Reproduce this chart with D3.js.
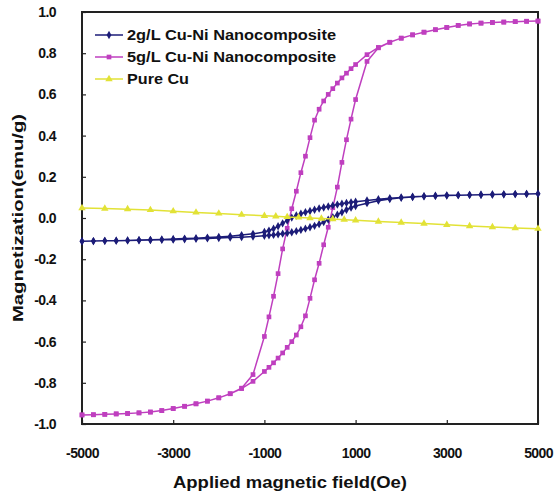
<!DOCTYPE html>
<meta charset="utf-8">
<style>
  body { margin: 0; background: #fff; }
  #chart text { font-family: "Liberation Sans", Arial, sans-serif; font-weight: bold; fill: #111; }
</style>
<body>
<div id="chart"></div>
<script src="https://cdn.jsdelivr.net/npm/d3@7"></script>
<script>
// field sweep, down branch (Oe)
const fieldDown = [5000, 4750, 4500, 4250, 4000, 3750, 3500, 3250, 3000, 2750, 2500, 2250, 2000, 1750, 1500, 1250,
  1000, 900, 800, 700, 600, 500, 400, 300, 200, 100, 0, -100, -200, -300, -400, -500, -600, -700, -800, -900, -1000,
  -1250, -1500, -1750, -2000, -2250, -2500, -2750, -3000, -3250, -3500, -3750, -4000, -4250, -4500, -4750, -5000]
const fieldUp = [-5000, -4750, -4500, -4250, -4000, -3750, -3500, -3250, -3000, -2750, -2500, -2250, -2000, -1750, -1500, -1250,
  -1000, -900, -800, -700, -600, -500, -400, -300, -200, -100, 0, 100, 200, 300, 400, 500, 600, 700, 800, 900, 1000,
  1250, 1500, 1750, 2000, 2250, 2500, 2750, 3000, 3250, 3500, 3750, 4000, 4250, 4500, 4750, 5000]

// 2g/L Cu-Ni
const m2Down = [0.118, 0.117, 0.116, 0.115, 0.114, 0.113, 0.112, 0.111, 0.110, 0.108, 0.106, 0.103, 0.100, 0.096, 0.091, 0.085,
  0.079, 0.076, 0.073, 0.069, 0.065, 0.061, 0.056, 0.051, 0.046, 0.040, 0.034, 0.028, 0.021, 0.012, 0.002, -0.012, -0.026, -0.040, -0.052, -0.061, -0.068,
  -0.077, -0.083, -0.088, -0.092, -0.095, -0.098, -0.100, -0.102, -0.104, -0.106, -0.107, -0.109, -0.110, -0.111, -0.112, -0.113]
const m2Up = [-0.113, -0.112, -0.111, -0.110, -0.109, -0.108, -0.107, -0.106, -0.105, -0.103, -0.101, -0.099, -0.097, -0.095, -0.093, -0.090,
  -0.086, -0.084, -0.082, -0.079, -0.076, -0.073, -0.069, -0.064, -0.058, -0.052, -0.045, -0.038, -0.030, -0.020, -0.008, 0.004, 0.016, 0.028, 0.040, 0.050, 0.058,
  0.072, 0.084, 0.092, 0.098, 0.102, 0.105, 0.107, 0.109, 0.111, 0.112, 0.113, 0.114, 0.115, 0.116, 0.117, 0.118]

// 5g/L Cu-Ni
const m5Down = [0.956, 0.955, 0.953, 0.951, 0.949, 0.946, 0.942, 0.935, 0.925, 0.914, 0.902, 0.889, 0.873, 0.853, 0.828, 0.793,
  0.745, 0.725, 0.703, 0.680, 0.655, 0.628, 0.600, 0.568, 0.528, 0.475, 0.390, 0.300, 0.220, 0.130, 0.045, -0.050, -0.150, -0.270, -0.380, -0.480, -0.575,
  -0.760, -0.826, -0.853, -0.873, -0.889, -0.902, -0.914, -0.925, -0.935, -0.942, -0.946, -0.949, -0.951, -0.953, -0.955, -0.956]
const m5Up = [-0.956, -0.955, -0.953, -0.951, -0.949, -0.946, -0.942, -0.935, -0.925, -0.914, -0.902, -0.889, -0.873, -0.853, -0.828, -0.793,
  -0.745, -0.725, -0.703, -0.680, -0.655, -0.628, -0.600, -0.568, -0.528, -0.475, -0.390, -0.300, -0.220, -0.130, -0.045, 0.050, 0.150, 0.270, 0.380, 0.480, 0.575,
  0.760, 0.826, 0.853, 0.873, 0.889, 0.902, 0.914, 0.925, 0.935, 0.942, 0.946, 0.949, 0.951, 0.953, 0.955, 0.956]

// Pure Cu
const fieldCu = [-5000, -4500, -4000, -3500, -3000, -2500, -2000, -1500, -1000, -750, -500, -250, 0, 250, 500, 750, 1000, 1500, 2000, 2500, 3000, 3500, 4000, 4500, 5000]
const mCu = [0.048, 0.046, 0.043, 0.039, 0.033, 0.027, 0.022, 0.016, 0.011, 0.008, 0.005, 0.003, 0.000, -0.003, -0.005, -0.008, -0.011, -0.017, -0.022, -0.027, -0.033, -0.039, -0.044, -0.049, -0.052]

const xTicks = [-5000, -3000, -1000, 1000, 3000, 5000]
const yTicks = [-1.0, -0.8, -0.6, -0.4, -0.2, 0.0, 0.2, 0.4, 0.6, 0.8, 1.0]

const zip = (h, m) => h.map((v, i) => [v, m[i]])
const series = [
  { name: "5g/L Cu-Ni Nanocomposite", color: "#bf3fbf", shape: d3.symbolSquare, size: 22,
    pts: zip(fieldDown, m5Down).concat(zip(fieldUp, m5Up)) },
  { name: "2g/L Cu-Ni Nanocomposite", color: "#1c1c78", shape: d3.symbolDiamond, size: 20,
    pts: zip(fieldDown, m2Down).concat(zip(fieldUp, m2Up)) },
  { name: "Pure Cu", color: "#e2e236", shape: d3.symbolTriangle, size: 24,
    pts: zip(fieldCu, mCu) }
]
const legendOrder = [1, 0, 2]

const W = 558, H = 492
const plotL = 82, plotR = 538, plotT = 12, plotB = 424

const svg = d3.select("#chart").append("svg").attr("width", W).attr("height", H)

const x = d3.scaleLinear().domain([-5000, 5000]).range([plotL, plotR])
const y = d3.scaleLinear().domain([-1, 1]).range([plotB, plotT])

// frame
svg.append("rect").attr("x", plotL).attr("y", plotT).attr("width", plotR - plotL).attr("height", plotB - plotT)
  .attr("fill", "none").attr("stroke", "#222").attr("stroke-width", 2)

const gx = svg.append("g").attr("transform", `translate(0,${plotB})`)
  .call(d3.axisBottom(x).tickValues(xTicks).tickSizeInner(-4).tickSizeOuter(0).tickPadding(24).tickFormat(d => d))
const gy = svg.append("g").attr("transform", `translate(${plotL},0)`)
  .call(d3.axisLeft(y).tickValues(yTicks).tickSizeInner(-4).tickSizeOuter(0).tickPadding(26).tickFormat(d => d.toFixed(1)))
;[gx, gy].forEach(g => {
  g.select(".domain").remove()
  g.selectAll("line").attr("stroke", "#222").attr("stroke-width", 1.2)
  g.selectAll("text").attr("font-size", 14).attr("font-family", null).style("letter-spacing", "-0.6px")
})

// curves
const line = d3.line().x(d => x(d[0])).y(d => y(d[1]))
series.forEach(s => {
  const g = svg.append("g")
  g.append("path").datum(s.pts).attr("d", line).attr("fill", "none")
    .attr("stroke", s.color).attr("stroke-width", 1.5)
  g.selectAll("path.pt").data(s.pts).join("path").attr("class", "pt")
    .attr("transform", d => `translate(${x(d[0])},${y(d[1])})`)
    .attr("d", d3.symbol().type(s.shape).size(s.size)).attr("fill", s.color)
})

// legend
const lg = svg.append("g")
legendOrder.forEach((si, i) => {
  const s = series[si], ly = 35 + i * 22
  lg.append("line").attr("x1", 95).attr("x2", 123).attr("y1", ly).attr("y2", ly)
    .attr("stroke", s.color).attr("stroke-width", 1.5)
  lg.append("path").attr("transform", `translate(109,${ly})`)
    .attr("d", d3.symbol().type(s.shape).size(s.size)).attr("fill", s.color)
  lg.append("text").attr("x", 127).attr("y", ly + 5).attr("font-size", 14)
    .attr("textLength", i < 2 ? 209 : 62).attr("lengthAdjust", "spacingAndGlyphs").text(s.name)
})

// axis titles
svg.append("text").attr("x", 290).attr("y", 488).attr("text-anchor", "middle").attr("font-size", 16)
  .attr("textLength", 234).attr("lengthAdjust", "spacingAndGlyphs").text("Applied magnetic field(Oe)")
svg.append("text").attr("transform", "translate(23,218) rotate(-90)").attr("text-anchor", "middle")
  .attr("font-size", 15).attr("textLength", 208).attr("lengthAdjust", "spacingAndGlyphs").text("Magnetization(emu/g)")
</script>
</body>
